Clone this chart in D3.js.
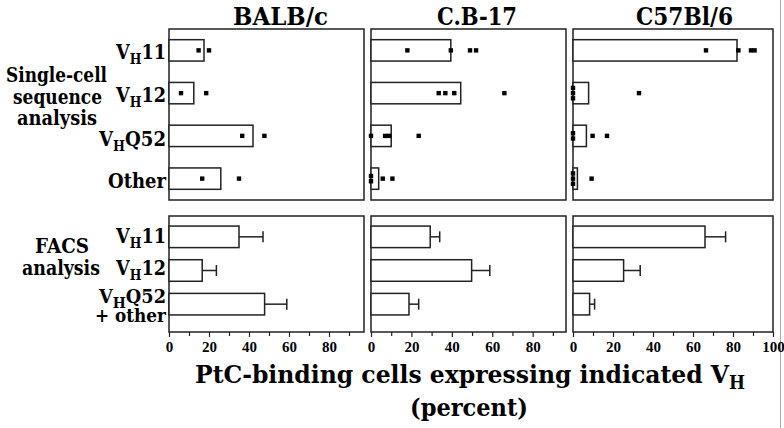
<!DOCTYPE html>
<html>
<head>
<meta charset="utf-8">
<script src="https://cdn.jsdelivr.net/npm/d3@7"></script>
<style>
  body { margin: 0; background: #fff; }
  svg { display: block; }
  text { font-family: "DejaVu Serif", serif; font-weight: bold; fill: #000; }
</style>
</head>
<body>
<svg width="784" height="428"></svg>
<script>

// ---- data (percent) ----
const strains = ["BALB/c", "C.B-17", "C57Bl/6"];
const xMax = [97.5, 96.5, 100];

// single-cell sequence analysis
const seqGenes = ["VH11", "VH12", "VHQ52", "Other"];
const seqBalb = [17.5, 12.4, 42, 25.9];
const seqCb17 = [39.5, 44.4, 10, 3.8];
const seqC57 = [82, 7.8, 6.7, 2.2];

// individual mice
const dotsBalb = [[14.8, 20], [6, 18.6], [36.6, 47.7], [16.6, 35]];
const dotsCb17 = [[18, 39.5, 49, 52], [33.5, 36.8, 41.2, 66], [0, 7, 9, 23.6], [0, 0, 5.8, 10.6]];
const dotsC57 = [[66.5, 82.7, 89, 90.8], [0, 0, 0, 33], [0, 0, 9.8, 17], [0, 0, 0, 9.3]];

// FACS analysis
const facsGenes = ["VH11", "VH12", "VHQ52|+ other"];
const facsBalb = [35, 16.6, 47.8];
const facsCb17 = [29.3, 49.8, 18.8];
const facsC57 = [66, 25.3, 8.3];
const errBalb = [12, 7.1, 11.1];
const errCb17 = [4.7, 9, 4.8];
const errC57 = [10.3, 8.3, 2.5];

const ticks = [0, 10, 20, 30, 40, 50, 60, 70, 80, 90, 100];

const seqVals = [seqBalb, seqCb17, seqC57];
const dotVals = [dotsBalb, dotsCb17, dotsC57];
const facsVals = [facsBalb, facsCb17, facsC57];
const errVals = [errBalb, errCb17, errC57];

// ---- layout ----
const svg = d3.select("svg");
const panelLeft = [169, 371, 573];
const panelWidth = [195, 195, 200];
const topY = [29, 200];
const botY = [216, 332];
const ink = "#222";

// title boxes [left, width] to mimic the original typeface
const titleBox = [[233, 95], [437, 80], [636, 97]];
const labelWidth = { "VH11": 50, "VH12": 50, "VHQ52": 67, "Other": 58, "+ other": 71 };

const yTop = d3.scaleBand().domain(seqGenes).range(topY).paddingInner(0.5).paddingOuter(0.25);
const yBot = d3.scaleBand().domain(facsGenes).range([220, 321]).paddingInner(0.36).paddingOuter(0.18);

function fit(t, w) {
  return t.attr("textLength", w).attr("lengthAdjust", "spacingAndGlyphs");
}

// label like V<sub>H</sub>11, right aligned at xr
function geneLabel(sel, name, xr, y, size) {
  const w = labelWidth[name];
  const t = sel.append("text").attr("x", xr - w).attr("y", y)
    .style("font-size", (size || 20) + "px");
  if (name.startsWith("VH")) {
    t.append("tspan").text("V");
    t.append("tspan").text("H").attr("dy", 5).style("font-size", "14px");
    t.append("tspan").text(name.slice(2)).attr("dy", -5);
  } else {
    t.text(name);
  }
  fit(t, w);
}

// thin scan border on the right
svg.append("line").attr("x1", 780.5).attr("x2", 780.5).attr("y1", 0).attr("y2", 428)
  .attr("stroke", "#aaa").attr("stroke-width", 1);

strains.forEach((s, i) => {

  const x = d3.scaleLinear().domain([0, xMax[i]]).range([panelLeft[i], panelLeft[i] + panelWidth[i]]);
  const g = svg.append("g");

  // strain title
  fit(g.append("text")
    .attr("x", titleBox[i][0])
    .attr("y", 25)
    .style("font-size", "25px")
    .text(s), titleBox[i][1]);

  // frames
  [topY, botY].forEach(r => {
    g.append("rect")
      .attr("x", x.range()[0]).attr("y", r[0])
      .attr("width", panelWidth[i]).attr("height", r[1] - r[0])
      .attr("fill", "none").attr("stroke", ink).attr("stroke-width", 1.5);
  });

  // sequence bars
  g.selectAll("rect.seq")
    .data(seqGenes)
    .join("rect")
    .attr("class", "seq")
    .attr("x", x(0))
    .attr("y", d => yTop(d))
    .attr("width", (d, j) => x(seqVals[i][j]) - x(0))
    .attr("height", yTop.bandwidth())
    .attr("fill", "#fff").attr("stroke", ink).attr("stroke-width", 1.5);

  // dots (repeat values stack vertically)
  seqGenes.forEach((gene, j) => {
    const vals = dotVals[i][j];
    const pts = vals.map((v, k) => {
      const same = vals.filter(w => w === v);
      const idx = vals.slice(0, k).filter(w => w === v).length;
      return { v: v, off: (idx - (same.length - 1) / 2) * 5.2 };
    });
    g.selectAll(null)
      .data(pts)
      .join("rect")
      .attr("x", d => x(d.v) - 2.2)
      .attr("y", d => yTop(gene) + yTop.bandwidth() / 2 + d.off - 2.2)
      .attr("width", 4.4).attr("height", 4.4)
      .attr("fill", "#000");
  });

  // FACS bars
  g.selectAll("rect.facs")
    .data(facsGenes)
    .join("rect")
    .attr("class", "facs")
    .attr("x", x(0))
    .attr("y", d => yBot(d))
    .attr("width", (d, j) => x(facsVals[i][j]) - x(0))
    .attr("height", yBot.bandwidth())
    .attr("fill", "#fff").attr("stroke", ink).attr("stroke-width", 1.5);

  // error bars
  facsGenes.forEach((gene, j) => {
    const cy = yBot(gene) + yBot.bandwidth() / 2;
    const x1 = x(facsVals[i][j]);
    const x2 = x(facsVals[i][j] + errVals[i][j]);
    g.append("line").attr("x1", x1).attr("x2", x2).attr("y1", cy).attr("y2", cy)
      .attr("stroke", ink).attr("stroke-width", 1.5);
    g.append("line").attr("x1", x2).attr("x2", x2).attr("y1", cy - 5.5).attr("y2", cy + 5.5)
      .attr("stroke", ink).attr("stroke-width", 1.5);
  });

  // axis
  const ax = g.append("g")
    .attr("transform", `translate(0,${botY[1]})`)
    .call(d3.axisBottom(x)
      .tickValues(ticks.filter(t => t <= xMax[i]))
      .tickSize(5)
      .tickSizeOuter(0)
      .tickFormat(d => d % 20 ? "" : d));
  ax.select(".domain").remove();
  ax.selectAll(".tick line").attr("stroke", ink).attr("stroke-width", 1.2)
    .attr("y2", d => d % 20 ? 4 : 5);
  ax.selectAll(".tick text")
    .attr("y", 19.7).attr("dy", 0)
    .style("font-family", "'Liberation Serif', serif")
    .style("font-weight", "bold")
    .style("font-size", "15px")
    .attr("fill", "#000");
});

// row labels
const rowBase = [59, 102, 146, 188];
seqGenes.forEach((gn, j) => geneLabel(svg, gn, 166, rowBase[j]));
geneLabel(svg, "VH11", 166, 243);
geneLabel(svg, "VH12", 166, 275);
facsGenes[2].split("|").forEach((p, k) => geneLabel(svg, p, 166, 303 + k * 19, 18));

// section labels: [text, left, width, baseline]
const sideLabels = [
  ["Single-cell", 6, 101, 82],
  ["sequence", 13, 89, 104],
  ["analysis", 17, 80, 125],
  ["FACS", 35, 54, 253],
  ["analysis", 22, 78, 275]
];
sideLabels.forEach(d =>
  fit(svg.append("text").attr("x", d[1]).attr("y", d[3]).style("font-size", "20px").text(d[0]), d[2]));

// axis title
const title = svg.append("text").attr("x", 195).attr("y", 383).style("font-size", "25px");
title.append("tspan").text("PtC-binding cells expressing indicated V");
title.append("tspan").text("H").attr("dy", 6).style("font-size", "18px");
fit(title, 550);
fit(svg.append("text").attr("x", 410).attr("y", 416)
  .style("font-size", "25px").text("(percent)"), 118);

</script>
</body>
</html>
